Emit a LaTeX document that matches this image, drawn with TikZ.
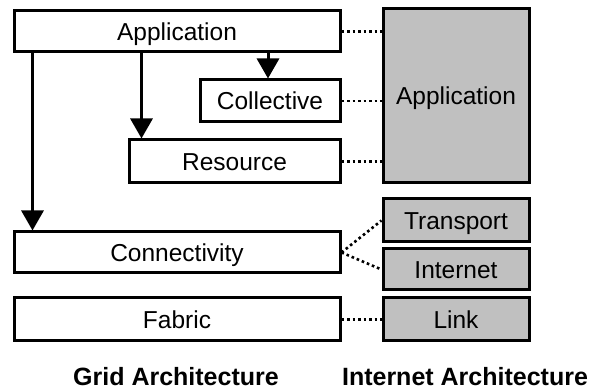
\documentclass[tikz,border=0pt]{standalone}
\usepackage{fontspec}
\setmainfont{Liberation Sans}
\usepackage{tikz}
\usetikzlibrary{arrows.meta}
\definecolor{layergray}{RGB}{192,192,192}

\begin{document}
\begin{tikzpicture}[x=1pt,y=-1pt,
  layer/.style={draw,line width=3pt,rectangle,inner sep=0pt,text height=17.5pt,text depth=0pt,font=\fontsize{24.5}{28}\selectfont},
  inetlayer/.style={layer,fill=layergray},
  arr/.style={line width=3pt,-{Triangle[width=22pt,length=20pt]}},
  dots/.style={line width=2.6pt,dash pattern=on 2.6pt off 2.9pt},
  caption/.style={anchor=base,font=\fontsize{25}{28}\selectfont\bfseries}]
  \useasboundingbox (0,0) rectangle (590,390);
  % Grid layers
  \node[layer,minimum width=326pt,minimum height=41pt] (app) at (177,31.5) {Application};
  \node[layer,minimum width=140pt,minimum height=42pt] (coll) at (270,101) {Collective};
  \node[layer,minimum width=211pt,minimum height=43pt] (res) at (234.5,161.5) {Resource};
  \node[layer,minimum width=326pt,minimum height=41pt] (conn) at (177,252.5) {Connectivity};
  \node[layer,minimum width=326pt,minimum height=43pt] (fab) at (177,319.5) {Fabric};

  % Internet layers
  \node[inetlayer,minimum width=146pt,minimum height=174pt] (iapp) at (456,96) {Application};
  \node[inetlayer,minimum width=146pt,minimum height=43pt] (trans) at (456,220.5) {Transport};
  \node[inetlayer,minimum width=146pt,minimum height=41pt] (inet) at (456,269.5) {Internet};
  \node[inetlayer,minimum width=146pt,minimum height=43pt] (link) at (456,319.5) {Link};

  % Arrows
  \draw[arr] ([xshift=20pt]app.south west) -- ([xshift=20pt]conn.north west);
  \draw[arr] ([xshift=14pt]res.north west |- app.south) -- ([xshift=14pt]res.north west);
  \draw[arr] ([xshift=-2pt]coll.north |- app.south) -- ([xshift=-2pt]coll.north);

  % Dotted links
  \draw[dots] (app.east) -- (app.east -| iapp.west);
  \draw[dots] (coll.east) -- (coll.east -| iapp.west);
  \draw[dots] (res.east) -- (res.east -| iapp.west);
  \draw[dots] (conn.east) -- (trans.west);
  \draw[dots] (conn.east) -- (inet.west);
  \draw[dots] (fab.east) -- (link.west);

  \node[caption] (gridcap) at (176,386) {Grid Architecture};
  \node[caption] (inetcap) at (465,386) {Internet Architecture};
\end{tikzpicture}
\end{document}
